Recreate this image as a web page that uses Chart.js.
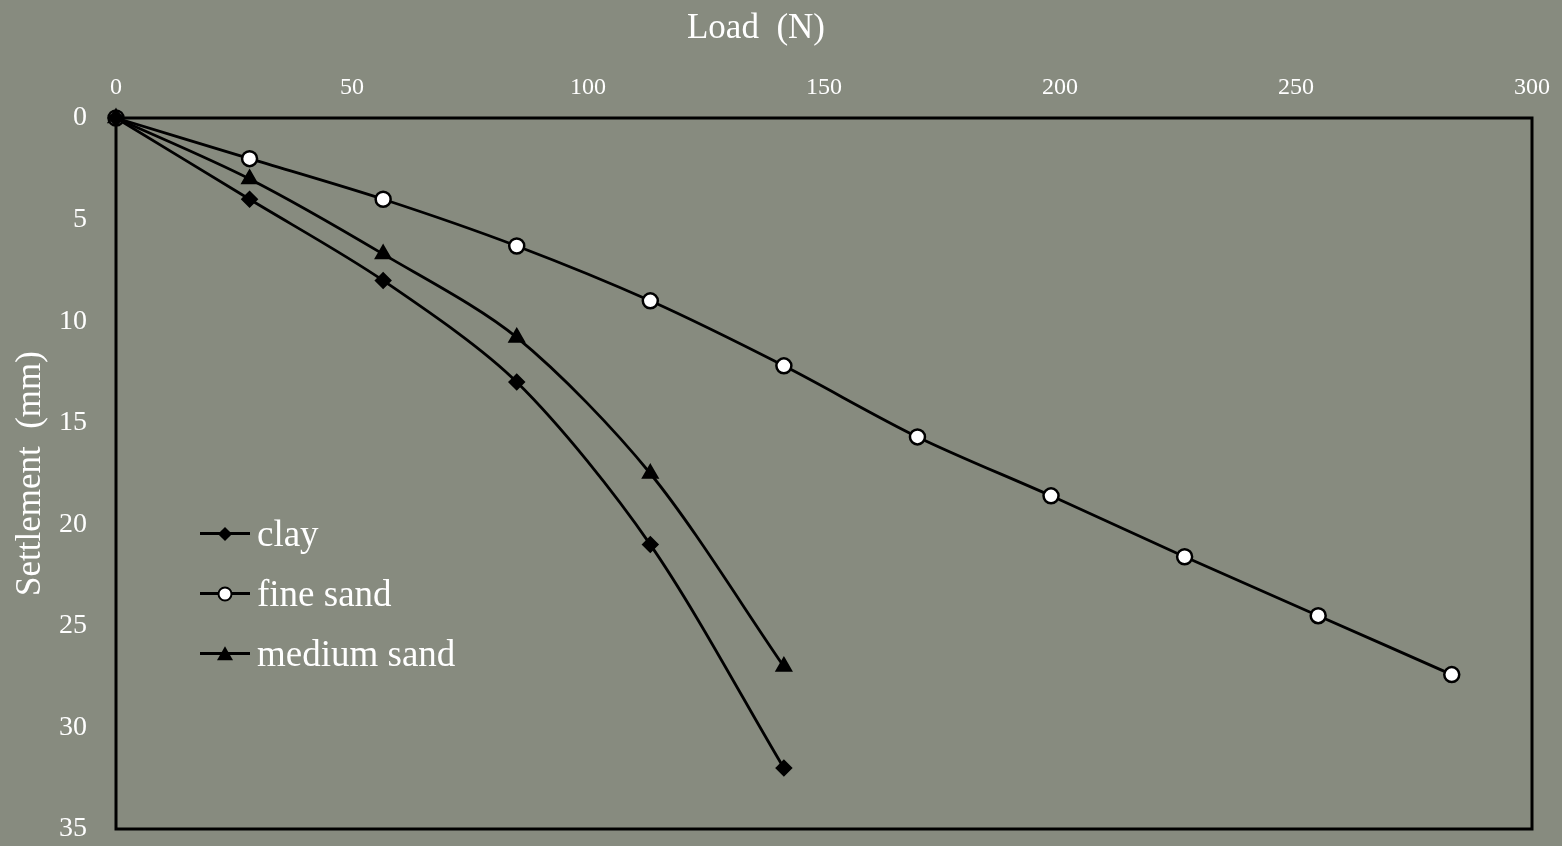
<!DOCTYPE html>
<html>
<head>
<meta charset="utf-8">
<script src="https://cdn.jsdelivr.net/npm/chart.js@4.4.0/dist/chart.umd.min.js"></script>
<style>
  html, body { margin: 0; padding: 0; }
  body { width: 1562px; height: 846px; overflow: hidden; background: #878b7f; font-family: "Liberation Serif", "DejaVu Serif", serif; }
  #wrap { position: relative; width: 1562px; height: 846px; }
  #chartSettlement { position: absolute; left: 0; top: 0; }
  #xTitle { position: absolute; top: 7px; left: 756px; transform: translateX(-50%); color: #fff; font-size: 35px; white-space: pre; }
  #legend { position: absolute; left: 200px; top: 503px; color: #fff; font-size: 37px; }
  .row { height: 60px; display: flex; align-items: center; }
  .key { position: relative; width: 50px; height: 20px; margin-right: 7px; }
  .key .ln { position: absolute; left: 0; right: 0; top: 9px; height: 3px; background: #000; }
  .key .mk { position: absolute; left: 50%; top: 55%; }
  .dia { width: 10px; height: 10px; background: #000; transform: translate(-50%, -50%) rotate(45deg); }
  .cir { width: 11px; height: 11px; background: #fff; border: 2.5px solid #000; border-radius: 50%; transform: translate(-50%, -50%); }
  .tri { width: 0; height: 0; border-left: 8px solid transparent; border-right: 8px solid transparent; border-bottom: 14px solid #000; transform: translate(-50%, -55%); }
</style>
</head>
<body>
<div id="wrap">
  <canvas id="chartSettlement" width="1562" height="846"></canvas>
  <div id="xTitle">Load  (N)</div>
  <div id="legend"></div>
</div>
<script>
// ===== DATA =====
const loadClay = [0, 28.3, 56.6, 84.9, 113.2, 141.5];
const settleClay = [0, 4.0, 8.0, 13.0, 21.0, 32.0];

const loadFine = [0, 28.3, 56.6, 84.9, 113.2, 141.5, 169.8, 198.1, 226.4, 254.7, 283.0];
const settleFine = [0, 2.0, 4.0, 6.3, 9.0, 12.2, 15.7, 18.6, 21.6, 24.5, 27.4];

const loadMedium = [0, 28.3, 56.6, 84.9, 113.2, 141.5];
const settleMedium = [0, 3.0, 6.7, 10.8, 17.5, 27.0];

const seriesNames = ['clay', 'fine sand', 'medium sand'];
const legendMarks = ['dia', 'cir', 'tri'];

const toPoints = (xs, ys) => xs.map((x, i) => ({ x: x, y: ys[i] }));

// ===== LEGEND (html) =====
const legendEl = document.getElementById('legend');
seriesNames.forEach((name, i) => {
  const row = document.createElement('div');
  row.className = 'row';
  row.innerHTML = '<div class="key"><div class="ln"></div><div class="mk ' + legendMarks[i] + '"></div></div><span>' + name + '</span>';
  legendEl.appendChild(row);
});

// frame round the plot area
const framePlugin = {
  id: 'frame',
  beforeDatasetsDraw(chart) {
    const a = chart.chartArea;
    const c = chart.ctx;
    c.save();
    c.strokeStyle = '#000';
    c.lineWidth = 3;
    c.strokeRect(a.left, a.top, a.right - a.left, a.bottom - a.top);
    c.restore();
  }
};

const serif = '"Liberation Serif", "DejaVu Serif", serif';
const lineStyle = { borderColor: '#000', borderWidth: 2.8, tension: 0.3, clip: false, pointBorderColor: '#000', pointBorderWidth: 2.5 };

const ctx = document.getElementById('chartSettlement');
new Chart(ctx, {
  type: 'line',
  data: {
    datasets: [
      Object.assign({ label: seriesNames[0], data: toPoints(loadClay, settleClay), pointStyle: 'rectRot', pointRadius: 7, pointBackgroundColor: '#000' }, lineStyle),
      Object.assign({ label: seriesNames[1], data: toPoints(loadFine, settleFine), pointStyle: 'circle', pointRadius: 7.5, pointBackgroundColor: '#fff' }, lineStyle),
      Object.assign({ label: seriesNames[2], data: toPoints(loadMedium, settleMedium), pointStyle: 'triangle', pointRadius: 8, pointBackgroundColor: '#000' }, lineStyle),
    ]
  },
  options: {
    responsive: false, animation: false,
    layout: { padding: { left: 0, top: 0, right: 30, bottom: 17 } },
    plugins: { legend: { display: false }, tooltip: { enabled: false } },
    scales: {
      x: {
        type: 'linear', position: 'top', min: 0, max: 300,
        grid: { display: false }, border: { display: false },
        ticks: { stepSize: 50, color: '#fff', font: { family: serif, size: 24 }, padding: 8 },
        afterFit(scale) { scale.height = 118; scale.paddingLeft = 0; scale.paddingRight = 0; }
      },
      y: {
        type: 'linear', reverse: true, min: 0, max: 35,
        grid: { display: false }, border: { display: false },
        ticks: { stepSize: 5, color: '#fff', font: { family: serif, size: 28 }, padding: 21 },
        title: { display: true, text: 'Settlement  (mm)', color: '#fff', font: { family: serif, size: 35 }, padding: { top: 10, bottom: 0 } },
        afterFit(scale) { scale.width = 116; scale.paddingTop = 0; scale.paddingBottom = 0; }
      }
    }
  },
  plugins: [framePlugin]
});
</script>
</body>
</html>
